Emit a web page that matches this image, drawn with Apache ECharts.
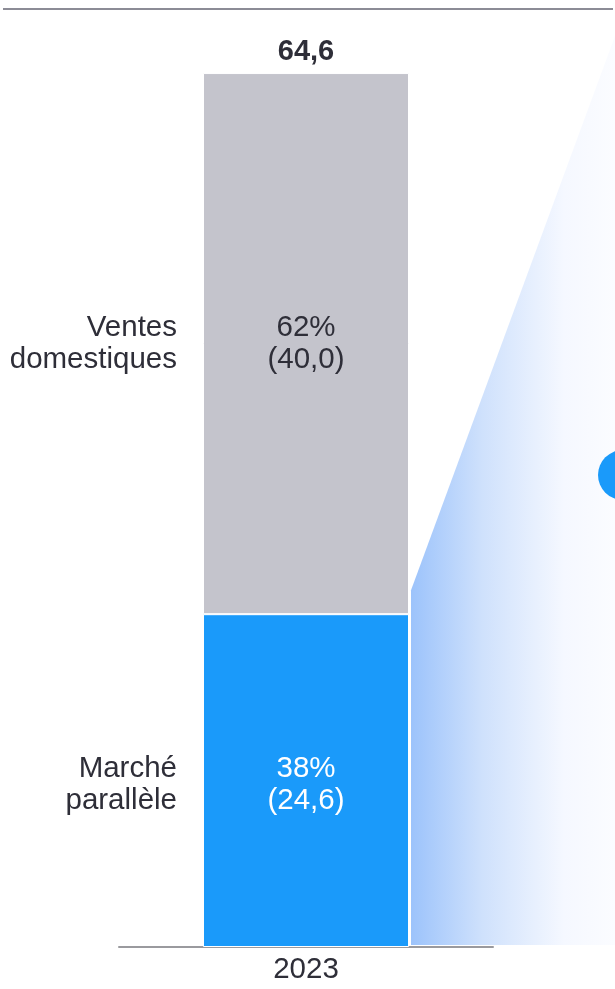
<!DOCTYPE html>
<html><head><meta charset="utf-8">
<script src="https://cdn.jsdelivr.net/npm/echarts@6/dist/echarts.min.js"></script>
<style>html,body{margin:0;padding:0;background:#fff}#c{width:615px;height:989px}</style>
</head><body><div id="c"></div>
<script>
const categories = ['2023'];
const segmentNames = ['Marché\nparallèle', 'Ventes\ndomestiques'];
const parallele = [24.6];
const domestiques = [40.0];
const totals = [64.6];
const shares = ['38%', '62%'];

const FONT = '"Liberation Sans", Arial, sans-serif';
const TXT = '#2e2e38';
const BLUE = '#1a9afa';
const GREY = '#c4c4cc';
const FS = 29.5;
const fmt = v => v.toFixed(1).replace('.', ',');

const chart = echarts.init(document.getElementById('c'), null, {renderer: 'canvas'});
const BW = 206;
const option = {
  animation: false,
  grid: {left: 119, right: 122, top: 0, bottom: 42},
  xAxis: {
    type: 'category', data: categories,
    axisLine: {lineStyle: {color: '#9a9a9e', width: 2}},
    axisTick: {show: false},
    axisLabel: {fontFamily: FONT, fontSize: FS, color: TXT, margin: 8}
  },
  yAxis: {type: 'value', min: 0, max: 70, show: false, splitLine: {show: false}},
  series: [
    {
      type: 'bar', stack: 'main', data: parallele, barWidth: BW, barGap: '-100%',
      itemStyle: {color: BLUE, borderColor: '#fff', borderWidth: 1},
      label: {show: true, position: 'inside', fontFamily: FONT, fontSize: FS, lineHeight: 32,
        color: '#fff', offset: [0, 4], formatter: p => shares[0] + '\n(' + fmt(p.value) + ')'}
    },
    {
      type: 'bar', stack: 'main', data: domestiques, barWidth: BW, barGap: '-100%',
      itemStyle: {color: GREY, borderColor: '#fff', borderWidth: 1},
      label: {show: true, position: 'inside', fontFamily: FONT, fontSize: FS, lineHeight: 32,
        color: TXT, formatter: p => shares[1] + '\n(' + fmt(p.value) + ')'}
    },
    {
      type: 'bar', stack: 'names', data: parallele, barWidth: BW, barGap: '-100%', z: 1,
      itemStyle: {color: 'rgba(0,0,0,0)'},
      label: {show: true, position: 'left', distance: 26, align: 'right', fontFamily: FONT, fontSize: FS,
        lineHeight: 32, color: TXT, offset: [0, 4], formatter: () => segmentNames[0]}
    },
    {
      type: 'bar', stack: 'names', data: domestiques, barWidth: BW, barGap: '-100%', z: 1,
      itemStyle: {color: 'rgba(0,0,0,0)'},
      label: {show: true, position: 'left', distance: 26, align: 'right', fontFamily: FONT, fontSize: FS,
        lineHeight: 32, color: TXT, formatter: () => segmentNames[1]}
    },
    {
      type: 'bar', data: totals, barWidth: BW, barGap: '-100%', z: 1,
      itemStyle: {color: 'rgba(0,0,0,0)'},
      label: {show: true, position: 'top', distance: 7, fontFamily: FONT, fontSize: 29,
        fontWeight: 'bold', color: TXT, formatter: p => fmt(p.value)}
    }
  ]
};
chart.setOption(option);

// decorations derived from the axes
const W = chart.getWidth();
const cx = chart.convertToPixel({xAxisIndex: 0}, categories[0]);
const y0 = chart.convertToPixel({yAxisIndex: 0}, 0);
const yBlue = chart.convertToPixel({yAxisIndex: 0}, parallele[0]);
const xR = cx + BW / 2 + 2;
chart.setOption({
  graphic: [
    {type: 'line', shape: {x1: 3, y1: 9, x2: W - 2, y2: 9}, style: {stroke: '#8c8c96', lineWidth: 2}, z: 10},
    {type: 'polygon', z: -1,
      shape: {points: [[xR, y0 - 2], [xR, yBlue - 24], [W, 36], [W, y0 - 2]]},
      style: {fill: new echarts.graphic.LinearGradient(0, 0, 1, 0, [
        {offset: 0, color: '#9cc3fb'},
        {offset: 0.35, color: '#cfe1fc'},
        {offset: 0.75, color: '#f5f8ff'},
        {offset: 1, color: '#fbfcff'}])}},
    {type: 'circle', shape: {cx: W + 8, cy: 475, r: 25}, style: {fill: BLUE}, z: 5}
  ]
});
</script></body></html>
